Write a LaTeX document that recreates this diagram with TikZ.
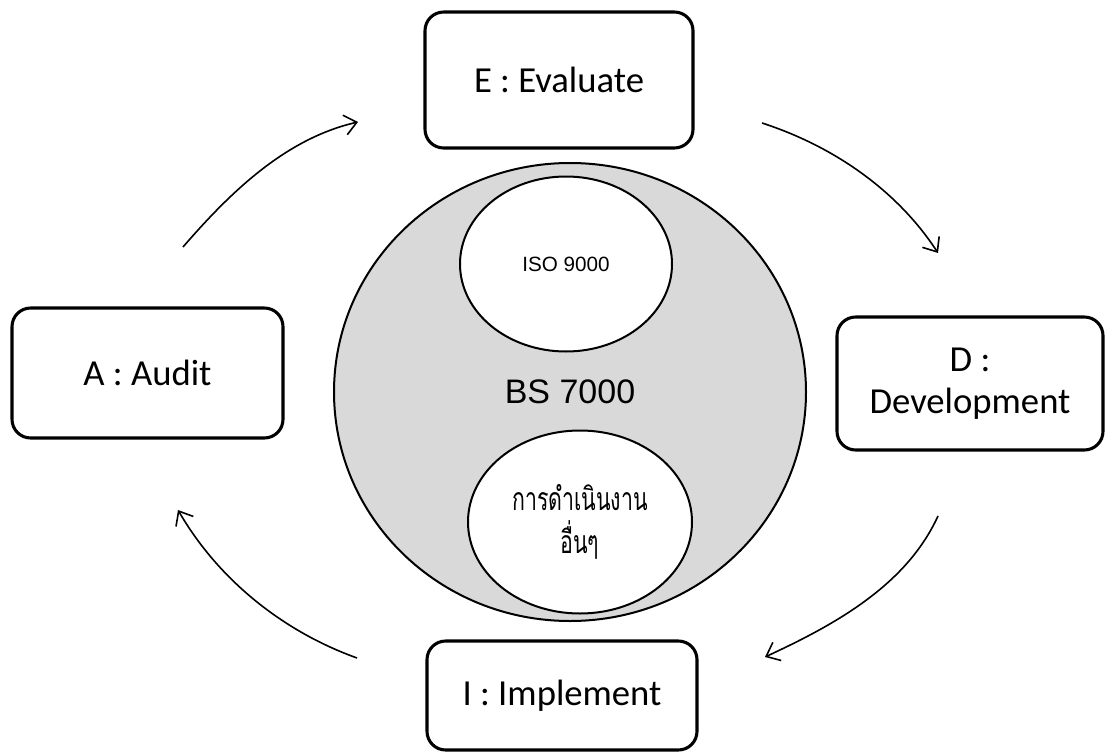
\documentclass[tikz,border=0pt]{standalone}
\usepackage{fontspec}
\usepackage{graphicx}
\setmainfont{Carlito}
\newfontfamily\thaifont[Script=Thai]{Loma}
\newfontfamily\helv{Liberation Sans}
\usetikzlibrary{shapes.geometric,arrows.meta}
\definecolor{coregray}{RGB}{217,217,217}
\newcommand{\tallthai}[1]{\scalebox{1}[1.5]{#1}}
\begin{document}
\begin{tikzpicture}[x=0.75pt,y=-0.75pt,
  stage/.style={draw, line width=2.3pt, rounded corners=14pt, fill=white,
    inner sep=0pt, align=center, font=\fontsize{27.5}{31.5}\selectfont},
  core/.style={ellipse, draw, line width=1.5pt, inner sep=0pt},
  cycle/.style={line width=1.2pt, -{Straight Barb[length=9pt,width=15pt]}}]

  % page area
  \fill[white] (0,0) rectangle (1107,753);
  \useasboundingbox (0,0) rectangle (1107,753);

  % central standard and its two parts
  \node[core, fill=coregray, minimum width=354pt, minimum height=343.5pt,
        font=\helv\fontsize{25.5}{30}\selectfont] (bs) at (570,392) {BS 7000};
  \node[core, fill=white, minimum width=159pt, minimum height=131.25pt,
        font=\helv\fontsize{15.5}{18}\selectfont] (iso) at (566,264) {ISO 9000};
  \node[core, fill=white, minimum width=168pt, minimum height=137.25pt,
        align=center, font=\thaifont\fontsize{16}{32}\selectfont] (other) at (580,522)
        {\tallthai{การดำเนินงาน}\\\tallthai{อื่นๆ}};

  % the four stages
  \node[stage, minimum width=201pt, minimum height=102pt] (eval) at (559,80) {E : Evaluate};
  \node[stage, minimum width=203.25pt, minimum height=97.5pt] (audit) at (147.5,373) {A : Audit};
  \node[stage, minimum width=199.5pt, minimum height=99.75pt] (dev) at (970,383.5) {D :\\Development};
  \node[stage, minimum width=202.5pt, minimum height=81.75pt] (impl) at (562,695.5) {I : Implement};

  % free ends of the cycle arrows
  \coordinate (ae0) at (183,247);  \coordinate (ae1) at (358,122);
  \coordinate (ed0) at (762,123);  \coordinate (ed1) at (938,253);
  \coordinate (di0) at (938,516);  \coordinate (di1) at (765,657);
  \coordinate (ia0) at (357,658);  \coordinate (ia1) at (178,510);

  % cycle A -> E -> D -> I -> A, each an arc-like curve
  \draw[cycle] (ae0) .. controls (231,191.5) and (286,138.5) .. (ae1);
  \draw[cycle] (ed0) .. controls (833,146) and (897,190) .. (ed1);
  \draw[cycle] (di0) .. controls (906,586) and (834,625) .. (di1);
  \draw[cycle] (ia0) .. controls (282,631) and (218,579) .. (ia1);
\end{tikzpicture}
\end{document}
